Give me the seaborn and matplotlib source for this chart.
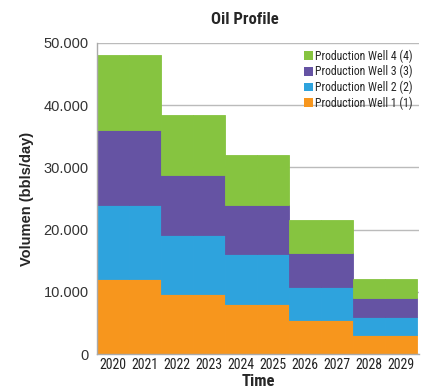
import matplotlib
matplotlib.use("Agg")
import matplotlib.pyplot as plt
import matplotlib.ticker as mticker
from matplotlib.patches import Patch
from matplotlib import font_manager
import seaborn as sns
import pandas as pd
import numpy as np

years = [2020, 2021, 2022, 2023, 2024, 2025, 2026, 2027, 2028, 2029]
well1 = [12000, 12000, 9600, 9600, 8000, 8000, 5400, 5400, 3000, 3000]
well2 = [12000, 12000, 9600, 9600, 8000, 8000, 5400, 5400, 3000, 3000]
well3 = [12000, 12000, 9600, 9600, 8000, 8000, 5400, 5400, 3000, 3000]
well4 = [12000, 12000, 9600, 9600, 8000, 8000, 5400, 5400, 3000, 3000]
series_names = ["Production Well 1 (1)", "Production Well 2 (2)",
                "Production Well 3 (3)", "Production Well 4 (4)"]
colors = ["#F7961D", "#2EA3DD", "#6553A3", "#86C440"]
yticks = [0, 10000, 20000, 30000, 40000, 50000]

rows = []
for name, vals in zip(series_names, [well1, well2, well3, well4]):
    for y, v in zip(years, vals):
        rows.append({"Time": y, "Well": name, "Value": v})
df = pd.DataFrame(rows)

sns.set_style("white")
plt.rcParams['font.family'] = ['Liberation Sans', 'DejaVu Sans']

installed = {f.name for f in font_manager.fontManager.ttflist}
narrow = [n for n in ['Liberation Sans Narrow', 'DejaVu Sans Condensed', 'Roboto Condensed',
                      'Open Sans Condensed', 'Roboto'] if n in installed]
NARROW = narrow[:1] + ['DejaVu Sans']
stretch = 'condensed'

fig = plt.figure(figsize=(4.22, 3.89), dpi=100)
ax = fig.add_axes([97/422, 1-354/389, (419-97)/422, (354-43)/389])

hue_order = series_names[::-1]
palette = dict(zip(series_names, colors))
sns.histplot(data=df, x="Time", weights="Value", hue="Well", hue_order=hue_order,
             multiple="stack", discrete=True, element="bars", shrink=1,
             palette=palette, alpha=1, linewidth=0.6, ax=ax, legend=False,
             edgecolor=None)
for p in ax.patches:
    p.set_edgecolor(p.get_facecolor())

ax.set_xlim(2019.5, 2029.55)
ax.set_ylim(0, 50000)
ax.set_yticks(yticks)
ax.yaxis.set_major_formatter(mticker.FuncFormatter(
    lambda v, pos: f"{int(v):,}".replace(",", ".")))
ax.grid(axis="y", color="#BBBBBB", linewidth=1)
ax.set_axisbelow(True)

ax.set_xticks([y - 0.5 for y in years] + [years[-1] + 0.5])
ax.set_xticklabels([])
ax.set_xticks(years, minor=True)
ax.set_xticklabels([str(y) for y in years], minor=True,
                   family=NARROW, fontsize=10, fontstretch=stretch)
ax.tick_params(axis="x", which="major", length=5, color="#AAAAAA", width=1)
ax.tick_params(axis="x", which="minor", length=0, pad=3, labelcolor="#222222")
ax.tick_params(axis="y", length=5, color="#AAAAAA", labelsize=10.5, pad=1,
               labelcolor="#333333")

for s in ["top", "right"]:
    ax.spines[s].set_visible(False)
for s in ["left", "bottom"]:
    ax.spines[s].set_color("#AAAAAA")
    ax.spines[s].set_linewidth(1)

ax.set_xlabel("Time", fontsize=12, fontweight="bold", family=NARROW,
              fontstretch=stretch, labelpad=1)
ax.set_ylabel("Volumen (bbls/day)", fontsize=10.5, fontweight="bold", labelpad=7)
fig.text(245/422, 1-20/389, "Oil Profile", ha="center", va="center",
         fontsize=12, fontweight="bold", family=NARROW, fontstretch=stretch)

handles = [Patch(facecolor=palette[n], edgecolor="none") for n in hue_order]
leg = ax.legend(handles, hue_order, loc="upper right", bbox_to_anchor=(1.0, 1.0),
                frameon=False, prop={'family': NARROW, 'size': 8.5, 'stretch': stretch},
                handlelength=0.75, handleheight=0.75, handletextpad=0.2,
                labelspacing=0.18, borderaxespad=0.15)

fig.savefig("out.png", dpi=100)
